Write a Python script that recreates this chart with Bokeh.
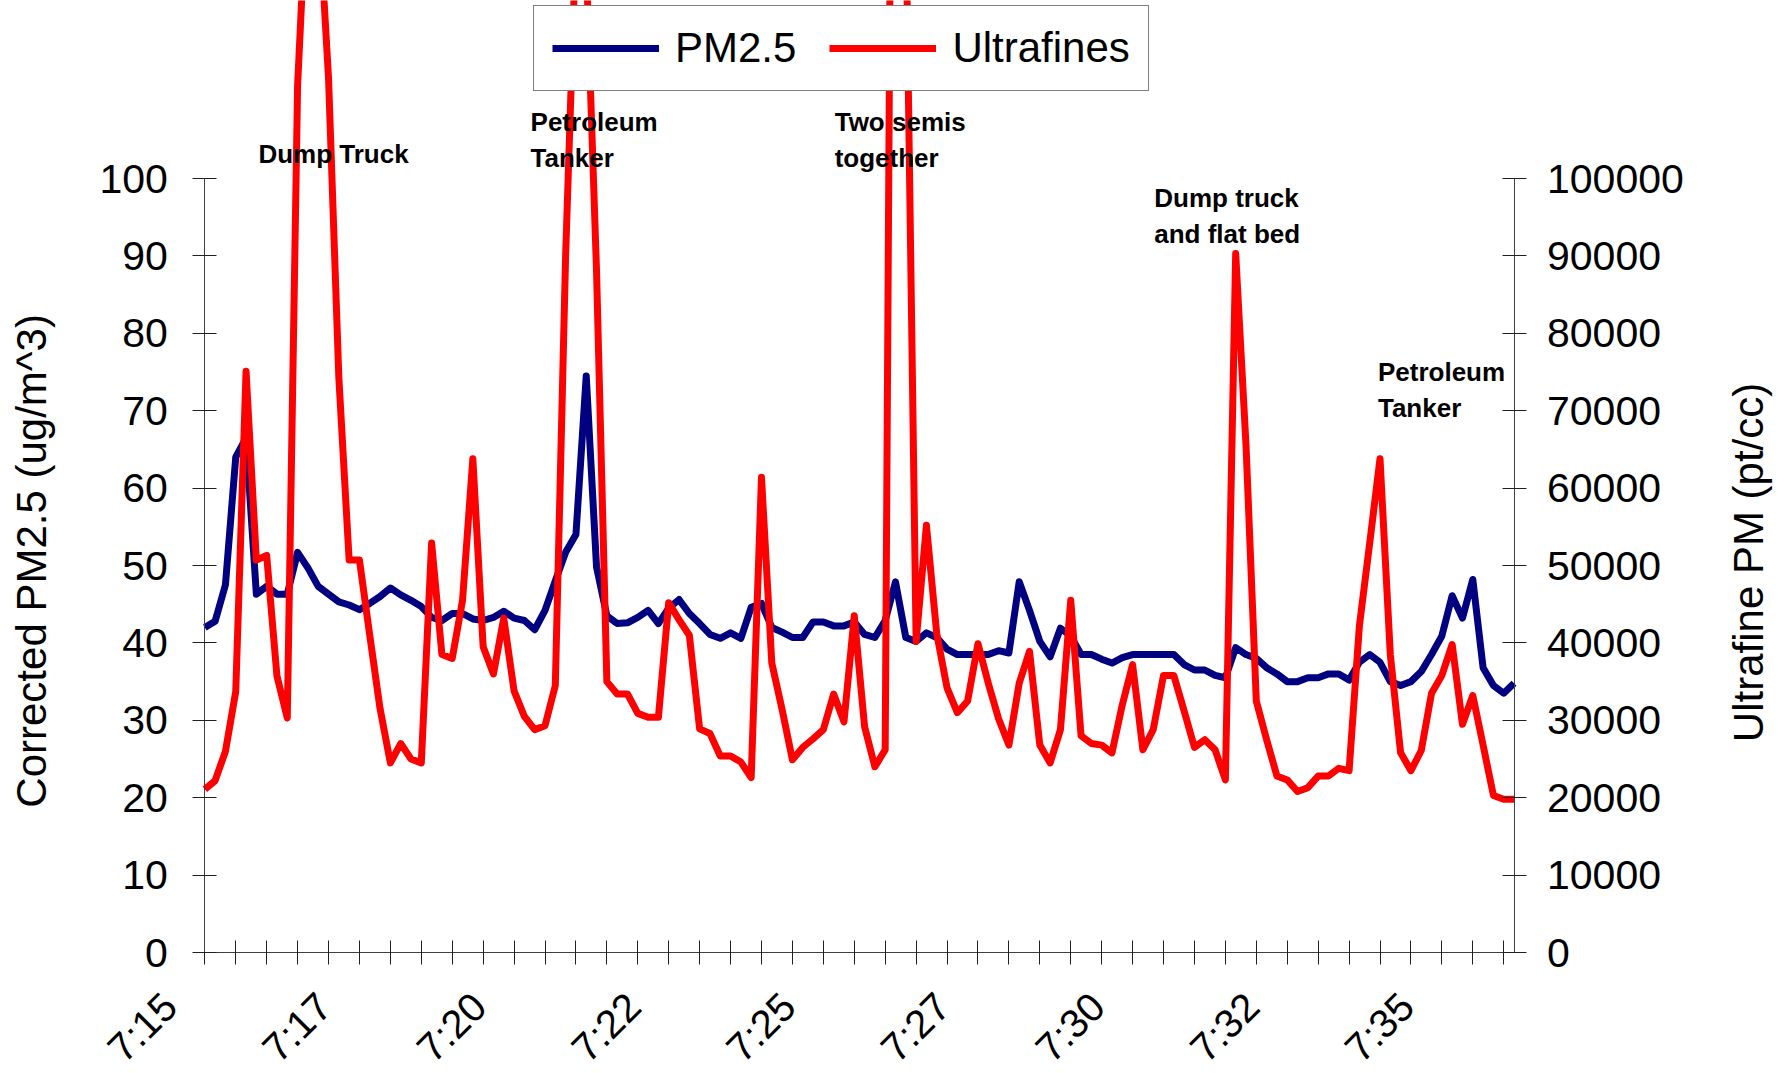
import math
from bokeh.plotting import figure
from bokeh.models import (Range1d, LinearAxis, FixedTicker, NumeralTickFormatter,
                          Label, Legend, LegendItem)
from bokeh.embed import file_html
from bokeh.resources import INLINE

# ---- data: samples every 10 s from 7:15:00 ----
pm25 = [
    42.0, 42.8, 47.5, 64.0, 66.5, 46.3, 47.3, 46.3, 46.3, 51.7,
    49.7, 47.3, 46.3, 45.3, 44.9, 44.3, 45.1, 46.0, 47.1, 46.2,
    45.5, 44.7, 43.3, 42.9, 43.8, 43.8, 43.1, 42.9, 43.3, 44.1,
    43.2, 42.9, 41.7, 44.2, 48.0, 51.7, 54.0, 74.5, 49.8, 43.5,
    42.5, 42.6, 43.3, 44.2, 42.5, 44.5, 45.6, 43.8, 42.5, 41.1,
    40.6, 41.3, 40.6, 44.6, 45.1, 42.0, 41.4, 40.7, 40.7, 42.7,
    42.7, 42.2, 42.2, 42.7, 41.1, 40.7, 42.9, 47.9, 40.7, 40.2,
    41.3, 40.7, 39.2, 38.5, 38.5, 38.5, 38.5, 39.0, 38.7, 47.9,
    44.2, 40.2, 38.2, 41.9, 40.9, 38.5, 38.5, 37.9, 37.4, 38.1,
    38.5, 38.5, 38.5, 38.5, 38.5, 37.2, 36.5, 36.5, 35.8, 35.5,
    39.4, 38.5, 38.0, 36.8, 36.0, 35.0, 35.0, 35.5, 35.5, 36.0,
    36.0, 35.2, 37.5, 38.5, 37.5, 35.0, 34.5, 35.0, 36.3, 38.5,
    40.9, 46.1, 43.2, 48.2, 36.8, 34.5, 33.5, 34.8,
]

ultrafines = [
    21100, 22200, 26000, 33700, 75100, 50700, 51300, 35700, 30300, 112000,
    140000, 136000, 113000, 74300, 50700, 50700, 41000, 31500, 24500, 27000,
    25000, 24500, 52900, 38500, 38000, 45500, 63800, 39500, 36000, 43200,
    33800, 30500, 28800, 29300, 34500, 90000, 131000, 128000, 88000, 35000,
    33400, 33400, 30900, 30400, 30400, 45200, 43000, 41000, 28900, 28300,
    25400, 25400, 24600, 22600, 61400, 37400, 31400, 24900, 26500, 27600,
    28800, 33400, 29800, 43500, 29200, 24000, 26200, 240000, 135000, 40200,
    55200, 41200, 34200, 31000, 32500, 39900, 34800, 30200, 26800, 34800,
    38900, 26800, 24500, 28800, 45500, 28000, 27000, 26800, 25800, 32000,
    37200, 26200, 28800, 35800, 35800, 31200, 26500, 27500, 26200, 22300,
    90300, 65600, 32500, 27500, 22800, 22300, 20800, 21300, 22800, 22800,
    23800, 23500, 42200, 52900, 63800, 38500, 25800, 23500, 26100, 33500,
    35800, 39800, 29500, 33200, 26800, 20300, 19800, 19800,
]

time_labels = ["7:15", "7:17", "7:20", "7:22", "7:25", "7:27", "7:30", "7:32", "7:35"]
samples_per_label = 15   # 2.5 min at 10 s
samples_per_tick = 3     # 30 s

pm_ticks = [0, 10, 20, 30, 40, 50, 60, 70, 80, 90, 100]
uf_ticks = [0, 10000, 20000, 30000, 40000, 50000, 60000, 70000, 80000, 90000, 100000]

events = ["Dump Truck", "Petroleum\nTanker", "Two semis\ntogether",
          "Dump truck\nand flat bed", "Petroleum\nTanker"]
event_x = [5.2, 31.6, 61.1, 92.1, 113.8]
event_y = [105.1, 109.2, 109.2, 99.4, 76.9]

x = list(range(len(pm25)))
n = len(pm25)
last = n - 1

FONT = "Liberation Sans"
W, H = 1780, 1072

# The frame fills the whole canvas; axes are pinned inside it with fixed_location
p = figure(frame_width=W, frame_height=H,
           min_border_left=0, min_border_right=0, min_border_top=0, min_border_bottom=0,
           x_range=Range1d(-19.82, 152.85), y_range=Range1d(-15.5, 123.0),
           output_backend="svg", toolbar_location=None)
p.extra_y_ranges = {"uf": Range1d(-15500, 123000)}
p.xgrid.visible = False
p.ygrid.visible = False
p.outline_line_color = None
p.background_fill_color = "white"
p.border_fill_color = "white"


def style_axis(ax, size="41px"):
    ax.major_tick_in = 12
    ax.major_tick_out = 12
    ax.minor_tick_line_color = None
    ax.axis_line_color = "#404040"
    ax.major_tick_line_color = "#202020"
    ax.major_label_text_font = FONT
    ax.major_label_text_font_size = size
    ax.major_label_text_color = "black"


# x axis: tick marks every 30 s, no labels
xticks = list(range(0, n, samples_per_tick))
xa = p.xaxis[0]
xa.fixed_location = 0
xa.bounds = (0, last)
xa.ticker = FixedTicker(ticks=xticks)
xa.major_label_overrides = {t: "" for t in xticks}
style_axis(xa)

# x labels (every 2.5 min), drawn by a second axis without line/ticks
label_shift = 3.4
lab_ticks = [k * samples_per_label - label_shift for k in range(len(time_labels))]
la = LinearAxis(fixed_location=0, bounds=(-5, last),
                ticker=FixedTicker(ticks=lab_ticks),
                major_label_overrides={t: s for t, s in zip(lab_ticks, time_labels)})
style_axis(la, "40px")
la.axis_line_color = None
la.major_tick_line_color = None
la.major_tick_in = 0
la.major_tick_out = 0
la.major_label_orientation = math.pi / 4
la.major_label_standoff = 47
p.add_layout(la, "below")

# left axis
ya = p.yaxis[0]
ya.fixed_location = 0
ya.ticker = FixedTicker(ticks=pm_ticks)
ya.bounds = (0, 100)
style_axis(ya)
ya.major_label_standoff = 25

# right axis
ra = LinearAxis(y_range_name="uf", fixed_location=last, ticker=FixedTicker(ticks=uf_ticks),
                formatter=NumeralTickFormatter(format="0"), bounds=(0, 100000))
style_axis(ra)
ra.major_label_standoff = 21
p.add_layout(ra, "right")

r_pm = p.line(x, pm25, line_color="#000080", line_width=7, line_join="round")
r_uf = p.line(x, ultrafines, line_color="#FF0000", line_width=7, line_join="round",
              y_range_name="uf")

# axis titles
p.add_layout(Label(x=-16.8, y=50.6, text="Corrected PM2.5 (ug/m^3)", angle=math.pi / 2,
                   text_align="center", text_baseline="middle",
                   text_font=FONT, text_font_size="42px", text_color="black"))
p.add_layout(Label(x=149.7, y=50.4, text="Ultrafine PM (pt/cc)", angle=math.pi / 2,
                   text_align="center", text_baseline="middle",
                   text_font=FONT, text_font_size="42px", text_color="black"))

# event annotations
for t, ex, ey in zip(events, event_x, event_y):
    p.add_layout(Label(x=ex, y=ey, text=t, text_align="left", text_baseline="top",
                       text_font=FONT, text_font_style="bold",
                       text_font_size="26px", text_color="black", text_line_height=1.2))

legend = Legend(items=[LegendItem(label="PM2.5", renderers=[r_pm]),
                       LegendItem(label="Ultrafines", renderers=[r_uf])],
                orientation="horizontal", location=(533, H - 91), margin=0,
                padding=18, spacing=33, glyph_width=107, glyph_height=40,
                label_standoff=16, label_text_font=FONT, label_text_font_size="42px",
                label_text_color="black", border_line_color="black", border_line_width=1,
                background_fill_color="white", background_fill_alpha=1.0)
p.add_layout(legend)

open("out.html", "w").write(file_html(p, INLINE))
